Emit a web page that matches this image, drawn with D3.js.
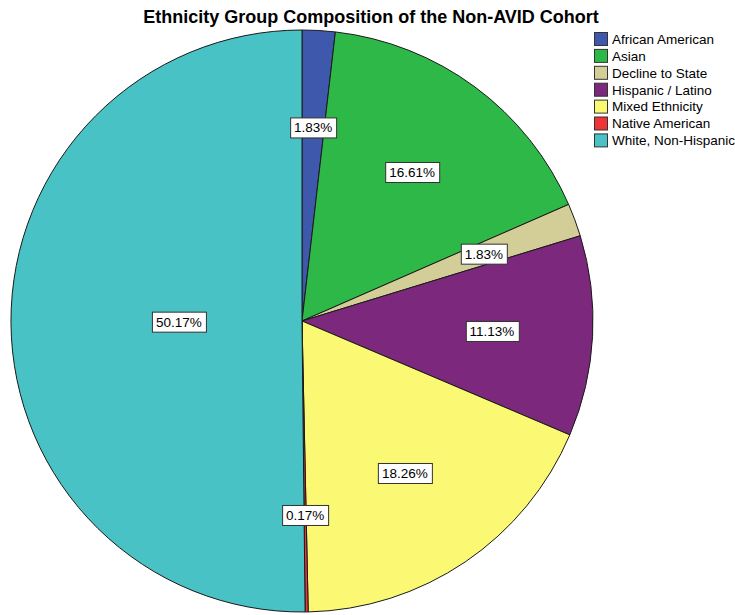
<!DOCTYPE html>
<html>
<head>
<meta charset="utf-8">
<script src="https://cdn.jsdelivr.net/npm/d3@7/dist/d3.min.js"></script>
<style>
  html, body { margin: 0; padding: 0; background: #fff; }
  svg { display: block; font-family: "Liberation Sans", Arial, sans-serif; }
</style>
</head>
<body>
<svg id="chart" width="735" height="615"></svg>
<script>
// Ethnicity shares (percent) of the Non-AVID cohort
const categories = ["African American", "Asian", "Decline to State", "Hispanic / Latino",
                    "Mixed Ethnicity", "Native American", "White, Non-Hispanic"];
const percents = [1.83, 16.61, 1.83, 11.13, 18.26, 0.17, 50.17];
const colors = ["#3E58AC", "#2EB848", "#D3CE97", "#7C287D", "#FBF873", "#EF3338", "#48C2C5"];
const title = "Ethnicity Group Composition of the Non-AVID Cohort";

const data = categories.map((c, i) => ({ category: c, value: percents[i], color: colors[i] }));

const svg = d3.select("#chart");
const cx = 302, cy = 321, radius = 291;

svg.append("text")
  .attr("x", 371).attr("y", 23)
  .attr("text-anchor", "middle")
  .attr("font-size", 18).attr("font-weight", "bold")
  .attr("fill", "#000")
  .text(title);

const pie = d3.pie().value(d => d.value).sort(null);
const arc = d3.arc().innerRadius(0).outerRadius(radius);
const arcs = pie(data);

const g = svg.append("g").attr("transform", `translate(${cx},${cy})`);

g.selectAll("path.slice")
  .data(arcs)
  .join("path")
  .attr("class", "slice")
  .attr("d", arc)
  .attr("fill", d => d.data.color)
  .attr("stroke", "#1a1a1a")
  .attr("stroke-width", 1)
  .attr("stroke-linejoin", "round");

// Label placed at the area centroid of each circular sector
function sectorCentroid(d) {
  const half = (d.endAngle - d.startAngle) / 2;
  const mid = d.startAngle + half;
  const dist = half < 1e-6 ? 2 * radius / 3 : (2 * radius * Math.sin(half)) / (3 * half);
  return [dist * Math.sin(mid), -dist * Math.cos(mid)];
}

const labels = g.selectAll("g.label")
  .data(arcs)
  .join("g")
  .attr("class", "label")
  .attr("transform", d => `translate(${sectorCentroid(d)})`);

labels.append("text")
  .attr("text-anchor", "middle")
  .attr("dy", "0.36em")
  .attr("font-size", 13.5)
  .attr("fill", "#000")
  .text(d => d.data.value.toFixed(2) + "%");

labels.each(function () {
  const gl = d3.select(this);
  const bb = gl.select("text").node().getBBox();
  gl.insert("rect", "text")
    .attr("x", Math.round(bb.x - 4) + 0.5)
    .attr("y", -9.5)
    .attr("width", Math.round(bb.width + 8))
    .attr("height", 20)
    .attr("fill", "#fff")
    .attr("stroke", "#333")
    .attr("stroke-width", 1);
});

// Legend
const legend = svg.append("g").attr("transform", "translate(594,39)");
const rowH = 16.9;
const items = legend.selectAll("g.item")
  .data(data)
  .join("g")
  .attr("class", "item")
  .attr("transform", (d, i) => `translate(0,${i * rowH})`);

items.append("rect")
  .attr("x", 0.5).attr("y", -6.5)
  .attr("width", 13).attr("height", 13)
  .attr("fill", d => d.color)
  .attr("stroke", "#333")
  .attr("stroke-width", 1);

items.append("text")
  .attr("x", 18)
  .attr("dy", "0.36em")
  .attr("font-size", 13.5)
  .attr("fill", "#000")
  .text(d => d.category);
</script>
</body>
</html>
